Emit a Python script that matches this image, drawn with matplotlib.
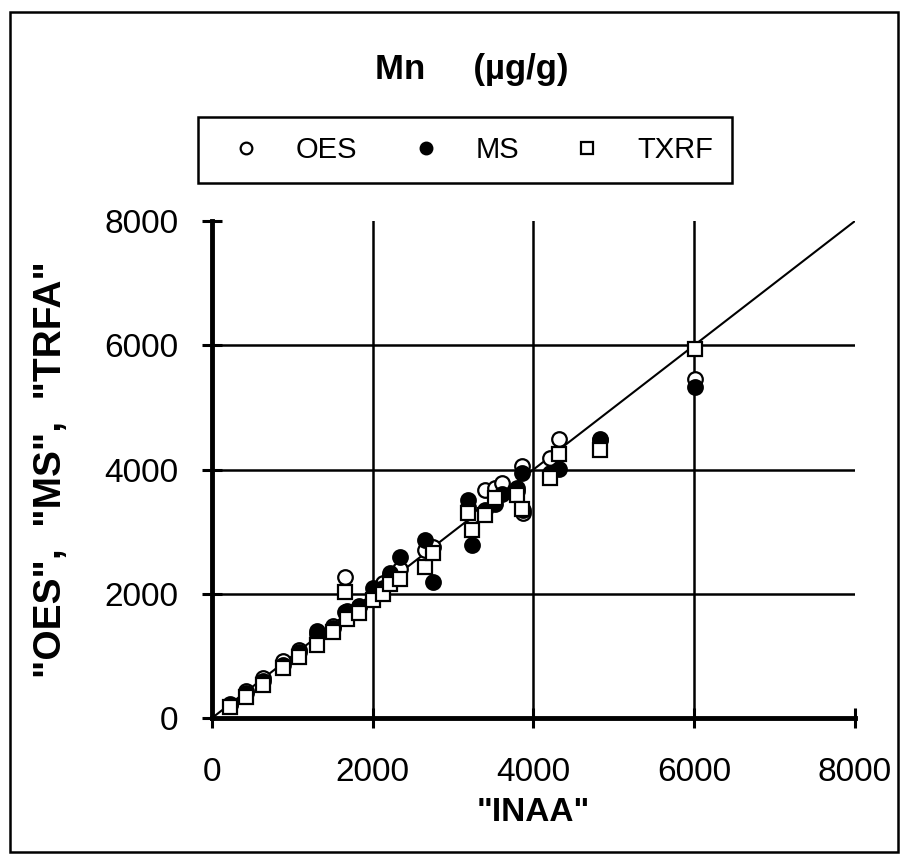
import matplotlib.pyplot as plt
from matplotlib.patches import Rectangle
import numpy as np

plt.rcParams['font.family'] = ['Liberation Sans', 'DejaVu Sans']

# INAA reference values (x) and the three methods (y) per sample
inaa = np.array([224, 423, 634, 883, 1082, 1306, 1505, 1655, 1680, 1829, 2003, 2127, 2214, 2339,
                 2650, 2750, 3185, 3234, 3396, 3520, 3607, 3794, 3856, 3870, 4205, 4316, 4827, 6009])
oes = np.array([230, 430, 650, 920, 1090, 1350, 1480, 2274, 1720, 1780, 1960, 2180, 2300, 2400,
                2700, 2750, 3400, 3250, 3678, 3700, 3790, 3650, 4049, 3300, 4178, 4484, 4480, 5452])
ms = np.array([210, 400, 600, 850, 1060, 1400, 1450, 1700, 1650, 1800, 2092, 2100, 2339, 2597,
               2871, 2190, 3516, 2790, 3350, 3450, 3600, 3700, 3950, 3350, 3950, 4016, 4484, 5323])
txrf = np.array([177, 339, 532, 806, 984, 1177, 1387, 2032, 1597, 1694, 1903, 2000, 2150, 2242,
                 2436, 2661, 3307, 3032, 3274, 3549, np.nan, 3597, 3371, np.nan, 3871, 4242, 4307, 5936])

line_xy = [0, 8000]
ticks = [0, 2000, 4000, 6000, 8000]

fig = plt.figure(figsize=(9.08, 8.61), dpi=100)
ax = fig.add_axes([0.2335, 0.1661, 0.7081, 0.5772])

ax.plot(line_xy, line_xy, color='black', lw=1.5, zorder=2)
h_oes, = ax.plot(inaa, oes, 'o', ms=10.5, mfc='white', mec='black', mew=1.6, label='OES', zorder=3)
h_ms, = ax.plot(inaa, ms, 'o', ms=10.5, mfc='black', mec='black', mew=1.6, label='MS', zorder=4)
h_txrf, = ax.plot(inaa, txrf, 's', ms=10, mfc='white', mec='black', mew=1.6, label='TXRF', zorder=5)

ax.set_xlim(0, 8000)
ax.set_ylim(0, 8000)
ax.set_xticks(ticks)
ax.set_yticks(ticks)
ax.tick_params(direction='inout', length=14, width=2.2, labelsize=24)
ax.tick_params(axis='x', pad=21)
ax.tick_params(axis='y', pad=17)
for side in ['top', 'right']:
    ax.spines[side].set_visible(False)
for side in ['left', 'bottom']:
    ax.spines[side].set_linewidth(3.5)

# grid only at the inner ticks
for t in ticks[1:-1]:
    ax.axhline(t, color='black', lw=1.8, zorder=1)
    ax.axvline(t, color='black', lw=1.8, zorder=1)

ax.set_xlabel('"INAA"', fontsize=24, fontweight='bold', va='center')
ax.xaxis.set_label_coords(0.5, -0.19)
ax.set_ylabel('"OES",  "MS",  "TRFA"', fontsize=28, fontweight='bold', va='center')
ax.yaxis.set_label_coords(-0.25, 0.5)

fig.text(0.52, 0.919, 'Mn     (µg/g)', ha='center', va='center', fontsize=25, fontweight='bold')

leg = fig.legend(handles=[h_oes, h_ms, h_txrf], loc='center', ncol=3,
                 bbox_to_anchor=(0.512, 0.826), fontsize=21,
                 markerscale=0.8, fancybox=False, edgecolor='black', framealpha=1,
                 handlelength=2.0, handletextpad=0.7, columnspacing=1.35, borderpad=0.65)
leg.get_frame().set_linewidth(1.8)

fig.patches.append(Rectangle((0.011, 0.010), 0.978, 0.976, transform=fig.transFigure,
                             fill=False, edgecolor='black', lw=1.8))

fig.savefig('out.png', dpi=100)
